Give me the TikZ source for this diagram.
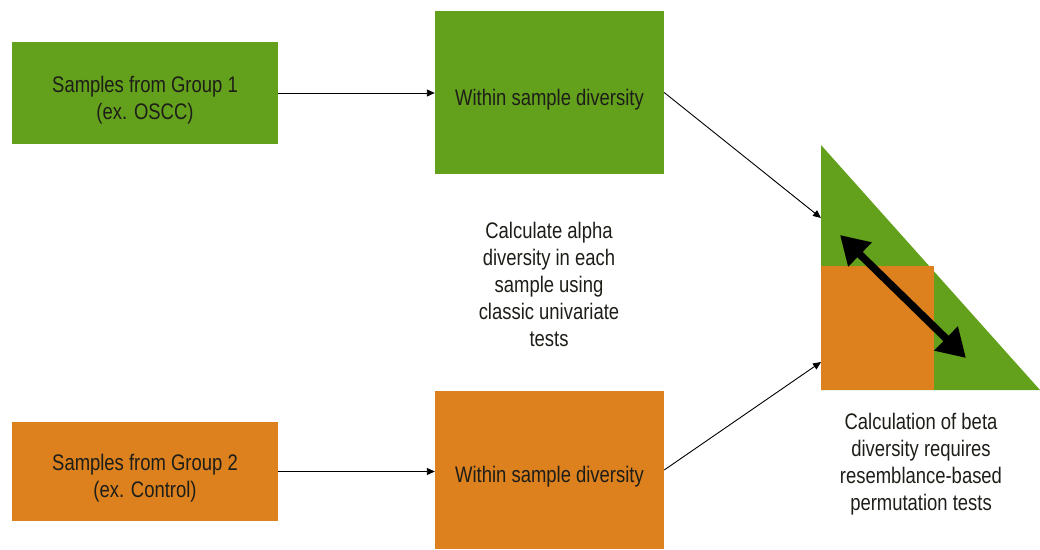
\documentclass[tikz,border=0pt]{standalone}
\usepackage{fontspec}
\setmainfont{Liberation Sans}[FakeStretch=0.82]
\usetikzlibrary{arrows.meta}
\definecolor{grp1}{RGB}{99,160,28}
\definecolor{grp2}{RGB}{220,129,30}
\definecolor{txt}{RGB}{30,30,25}
\tikzset{
  box/.style={rectangle, draw=none, inner sep=0pt},
  greenbox/.style={box, fill=grp1},
  orangebox/.style={box, fill=grp2},
  note/.style={align=center, text=txt, inner sep=0pt, font=\fontsize{22.5}{27}\selectfont},
  boxtext/.style={note, yshift=-7pt},
  conn/.style={draw=black, line width=0.9pt, -{Triangle[length=8pt,width=7pt]}},
  bigarrow/.style={draw=black, line width=7.5pt, {Triangle[length=28pt,width=32pt]}-{Triangle[length=28pt,width=32pt]}}
}
\begin{document}
\begin{tikzpicture}[x=1pt,y=-1pt]
\useasboundingbox (0,0) rectangle (1040,549);
% boxes
\node[greenbox, minimum width=266pt, minimum height=102pt,
  label={[boxtext]center:Samples from Group 1\\(ex. OSCC)}] (g1) at (145,93) {};
\node[greenbox, minimum width=229pt, minimum height=163pt,
  label={[boxtext]center:Within sample diversity}] (w1) at (549.5,92.5) {};
\node[orangebox, minimum width=266pt, minimum height=99pt,
  label={[boxtext]center:Samples from Group 2\\(ex. Control)}] (g2) at (145,471.5) {};
\node[orangebox, minimum width=229pt, minimum height=158pt,
  label={[boxtext]center:Within sample diversity}] (w2) at (549.5,470) {};
% triangle and square
\coordinate (ta) at (821,145);
\coordinate (tb) at (821,390);
\coordinate (tc) at (1040,390);
\fill[grp1] (ta) -- (tb) -- (tc) -- cycle;
\fill[grp2] (821,266) rectangle (934,390);
\coordinate (t1) at (821,218);
\coordinate (t2) at (821,362);
\coordinate (d1) at (840,235);
\coordinate (d2) at (966,358);
\draw[bigarrow] (d1) -- (d2);
% connectors
\draw[conn] (g1.east) -- (g1.east -| w1.west);
\draw[conn] (g2.east) -- (g2.east -| w2.west);
\draw[conn] (w1.east) -- (t1);
\draw[conn] (w2.east) -- (t2);
% notes
\node[note] (alpha) at (549,284) {Calculate alpha\\diversity in each\\sample using\\classic univariate\\tests};
\node[note] (beta) at (921,464) {Calculation of beta\\diversity requires\\resemblance-based\\permutation tests};
\end{tikzpicture}
\end{document}
